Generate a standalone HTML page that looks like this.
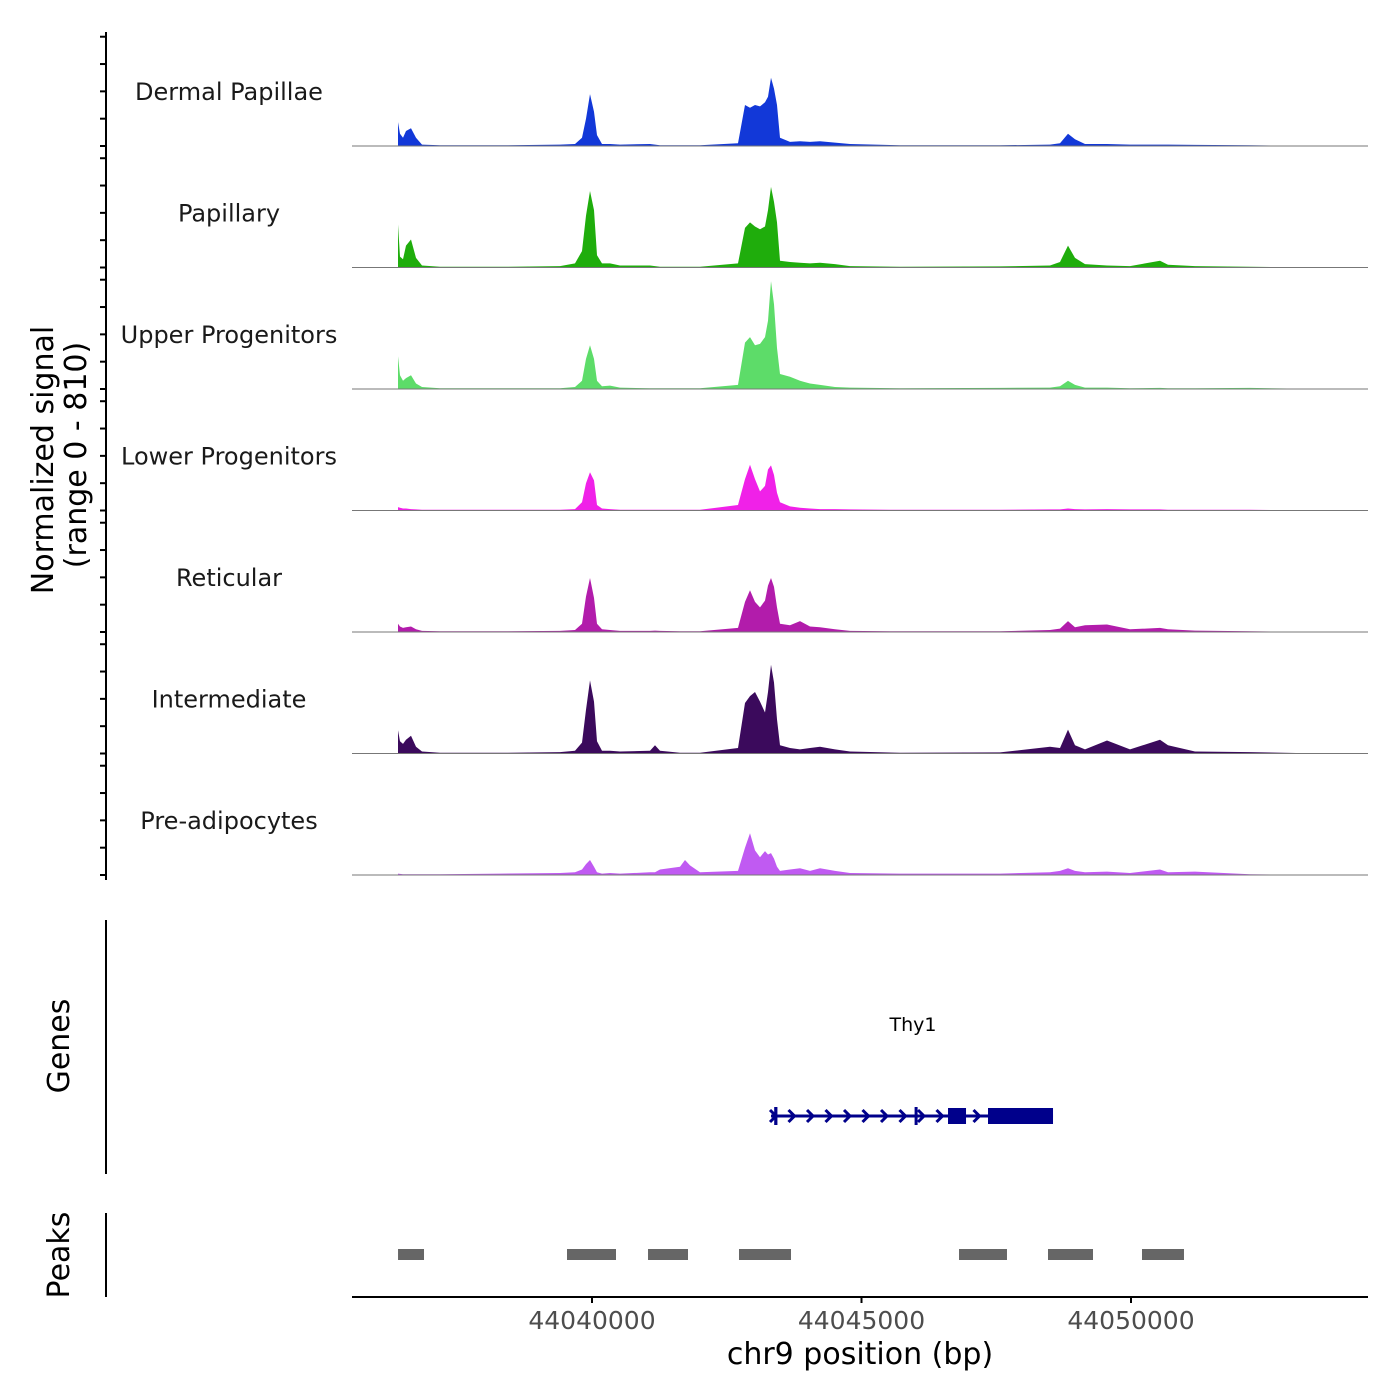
<!DOCTYPE html>
<html><head><meta charset="utf-8"><style>
html,body{margin:0;padding:0;background:#fff;}
svg{display:block;font-family:"DejaVu Sans","Liberation Sans",sans-serif;}
</style></head><body>
<svg id="chart" width="1400" height="1400" viewBox="0 0 1400 1400" xmlns="http://www.w3.org/2000/svg">
<rect width="1400" height="1400" fill="#fff"/>
<g id="tracks"></g>
<g id="yaxis"></g>
<text transform="translate(53,460) rotate(-90)" text-anchor="middle" font-size="30" fill="#000">Normalized signal</text>
<text transform="translate(86,455) rotate(-90)" text-anchor="middle" font-size="30" fill="#000">(range 0 - 810)</text>
<line x1="106" y1="920" x2="106" y2="1174" stroke="#000" stroke-width="2"/>
<text transform="translate(69,1046) rotate(-90)" text-anchor="middle" font-size="30">Genes</text>
<g id="genes"></g>
<line x1="106" y1="1213" x2="106" y2="1297" stroke="#000" stroke-width="2"/>
<text transform="translate(69,1255) rotate(-90)" text-anchor="middle" font-size="30">Peaks</text>
<g id="peaks"></g>
<g id="xaxis"></g>
<text x="860" y="1364" text-anchor="middle" font-size="30">chr9 position (bp)</text>
</svg>
<script>
const positions=[44036401,44036438,44036493,44036549,44036642,44036735,44036846,44037180,44038293,44039406,44039685,44039814,44039889,44039963,44040037,44040093,44040186,44040334,44040519,44041076,44041169,44041262,44041633,44041725,44041818,44042004,44042709,44042839,44042931,44043024,44043117,44043210,44043265,44043321,44043377,44043432,44043488,44043673,44043859,44044045,44044230,44044508,44044787,44045714,44047570,44048497,44048683,44048831,44048961,44049147,44049555,44049982,44050538,44050687,44051187,44052208,44053544];
const trackNames=["Dermal Papillae","Papillary","Upper Progenitors","Lower Progenitors","Reticular","Intermediate","Pre-adipocytes"];
const trackColors=["#1238d8","#1fad0c","#5ddc69","#f021e8","#b21cab","#3b0a5c","#c05af2"];
const valsDP=[175,90,60,110,130,60,10,5,5,10,15,60,200,380,250,80,15,15,10,15,10,5,5,5,5,5,20,300,280,300,290,320,360,500,420,300,60,30,35,30,35,25,15,5,5,10,20,90,50,15,15,10,10,10,8,5,0];
const valsPap=[315,80,60,160,205,70,15,5,5,10,30,120,380,560,420,90,30,30,15,15,10,5,5,5,5,5,30,290,330,300,280,300,420,590,480,330,50,40,35,30,35,25,10,5,8,15,40,160,70,25,15,10,50,20,10,5,0];
const valsUP=[240,100,60,80,100,40,15,5,5,5,15,60,220,320,220,60,20,25,10,5,5,5,5,5,5,5,30,340,380,320,330,380,500,790,620,300,110,90,60,40,30,15,10,5,8,10,20,60,30,10,10,5,8,5,5,8,0];
const valsLP=[25,20,15,15,10,8,5,5,5,5,10,60,200,280,220,40,15,10,5,5,5,5,5,5,5,5,40,230,335,230,140,180,300,330,260,130,60,30,20,15,10,10,8,5,5,8,8,15,10,8,10,8,8,5,5,5,0];
const valsRet=[60,40,30,35,40,20,8,5,5,8,15,60,260,395,250,60,20,15,8,8,10,8,5,5,5,5,30,220,305,220,180,230,340,395,330,180,60,50,80,40,35,20,8,5,5,15,25,80,35,50,55,20,30,20,10,5,0];
const valsInt=[170,90,70,100,130,50,15,5,5,10,20,80,320,535,380,90,20,20,15,20,60,20,5,5,5,5,40,370,420,450,380,300,450,650,520,250,60,40,30,40,50,30,15,5,8,50,40,175,60,30,95,30,100,60,15,10,0];
const valsPre=[10,8,5,5,5,5,5,5,10,15,20,40,80,110,60,20,10,15,10,20,20,40,60,110,70,20,30,200,305,180,130,175,150,160,120,60,30,40,50,30,50,30,15,10,10,20,30,50,30,20,25,15,40,20,25,5,0];
const allVals=[valsDP,valsPap,valsUP,valsLP,valsRet,valsInt,valsPre];
const yTicks=[0,200,400,600,800];
const xTicks=[44040000,44045000,44050000];
const xTickLabels=["44040000","44045000","44050000"];
const peakStarts=[44036401,44039536,44041039,44042727,44046809,44048460,44050204];
const peakEnds=[44036883,44040445,44041781,44043692,44047699,44049295,44050983];
const geneName="Thy1";
const geneStart=44043321, geneEnd=44048553;
const exonStarts=[44043380,44045985,44046605,44047347];
const exonEnds=[44043440,44046040,44046939,44048553];

const NS="http://www.w3.org/2000/svg";
const X0=44035547,X1=44054397,PX0=352,PX1=1368;
function xs(bp){return PX0+(bp-X0)*(PX1-PX0)/(X1-X0);}
const baselines=[146,267.5,389,510.5,632,753.5,875];
const yScale=0.1366;
function mk(tag,attrs,parent){const e=document.createElementNS(NS,tag);for(const k in attrs)e.setAttribute(k,attrs[k]);parent.appendChild(e);return e;}
const tracks=document.getElementById('tracks'),yaxis=document.getElementById('yaxis');
const axl=mk('line',{x1:106,y1:32,x2:106,y2:880,stroke:'#000','stroke-width':2},yaxis);


allVals.forEach((vals,t)=>{
  const b=baselines[t];
  const g=mk('g',{},tracks);
  
  
  let d='M'+xs(positions[0]).toFixed(1)+','+b;
  positions.forEach((p,i)=>{d+=' L'+xs(p).toFixed(1)+','+(b-vals[i]*yScale).toFixed(1);});
  d+=' L'+xs(positions[positions.length-1]).toFixed(1)+','+b+' Z';
  const area=mk('path',{d:d,fill:trackColors[t]},g);
  
  
  const bl=mk('line',{x1:PX0,y1:b,x2:PX1,y2:b,stroke:'#777','stroke-width':1},g);
  
  
  const lab=mk('text',{x:229,y:b-46,'text-anchor':'middle','font-size':24,fill:'#1a1a1a'},g);
  lab.textContent=trackNames[t];
  
  
  yTicks.forEach(v=>{
    const tk=mk('line',{x1:100,x2:106,y1:b-v*yScale,y2:b-v*yScale,stroke:'#000','stroke-width':2},yaxis);
    
    
  });
});
const gg=document.getElementById('genes');
const gl=mk('text',{x:913,y:1031,'text-anchor':'middle','font-size':19,fill:'#000'},gg);
gl.textContent=geneName;


const gy=1116,navy='#00008b';
const intr=mk('line',{x1:xs(geneStart),x2:xs(geneEnd),y1:gy,y2:gy,stroke:navy,'stroke-width':3},gg);


for(let x=xs(geneStart)+2;x<xs(geneEnd)-4;x+=18.5){
  const a=mk('path',{d:`M${x-3},${gy-6} L${x+3},${gy} L${x-3},${gy+6}`,fill:'none',stroke:navy,'stroke-width':3},gg);
  
  
}
exonStarts.forEach((s,i)=>{
  const small=(exonEnds[i]-s)<100;
  const r=mk('rect',{x:xs(s),y:small?gy-9:gy-8,width:Math.max(3,xs(exonEnds[i])-xs(s)),height:small?18:16,fill:navy},gg);
  
  
});
const pg=document.getElementById('peaks');
peakStarts.forEach((s,i)=>{
  const r=mk('rect',{x:xs(s),y:1249,width:xs(peakEnds[i])-xs(s),height:11,fill:'#666'},pg);
  
  
});
const xa=document.getElementById('xaxis');
const xl=mk('line',{x1:PX0,x2:PX1,y1:1297,y2:1297,stroke:'#000','stroke-width':2},xa);


xTicks.forEach((v,i)=>{
  const tk=mk('line',{x1:xs(v),x2:xs(v),y1:1297,y2:1303,stroke:'#000','stroke-width':2},xa);
  
  
  const tl=mk('text',{x:xs(v),y:1329,'text-anchor':'middle','font-size':25,fill:'#4d4d4d'},xa);
  tl.textContent=xTickLabels[i];
  
  
});
</script>
</body></html>
